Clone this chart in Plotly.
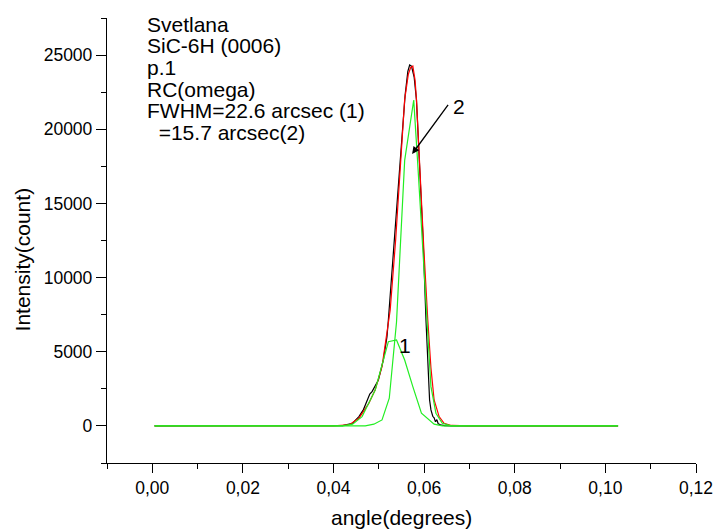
import plotly.graph_objects as go

# ---------------- data ----------------
# measured rocking curve, sample 1 (black)
black_x = [0.0005, 0.0400, 0.0420, 0.0442, 0.0456, 0.0466, 0.0474, 0.0480, 0.0485, 0.0499,
           0.0510, 0.0518, 0.0521, 0.0530, 0.0540, 0.0550, 0.0558, 0.0564, 0.0568, 0.0572,
           0.0578, 0.0583, 0.0590, 0.0598, 0.0604, 0.0608, 0.0612, 0.0615, 0.0619, 0.0622,
           0.0625, 0.0628, 0.0631, 0.0636, 0.0645, 0.0660, 0.1028]
black_y = [0, 0, 20, 180, 627, 1100, 1750, 2150, 2310, 3100,
           4450, 6020, 7140, 10800, 14800, 18900, 22300, 23900, 24330, 24250,
           23500, 22000, 17300, 12300, 7140, 4200, 1750, 1080, 650, 540,
           280, 420, 150, 80, 20, 0, 0]

# fit of curve 1 (red)
red_x = [0.0005, 0.0400, 0.0434, 0.0456, 0.0478, 0.0492, 0.0507, 0.0518, 0.0525, 0.0537,
         0.0550, 0.0557, 0.0565, 0.0570, 0.0575, 0.0580, 0.0583, 0.0590, 0.0599, 0.0608,
         0.0615, 0.0622, 0.0633, 0.0644, 0.0660, 0.0700, 0.1028]
red_y = [0, 0, 67, 520, 1530, 2430, 4000, 6250, 7800, 12500,
         18500, 22000, 23700, 24150, 24260, 23300, 22000, 17300, 12100, 7140,
         3900, 1750, 630, 180, 30, 0, 0]

# small green peak (labelled 1)
small_x = [0.0005, 0.0420, 0.0442, 0.0463, 0.0492, 0.0521, 0.0539, 0.0557, 0.0575, 0.0594,
           0.0622, 0.0640, 0.1028]
small_y = [0, 0, 115, 627, 2426, 5680, 5795, 4447, 2648, 856,
           115, 0, 0]

# narrow green curve (labelled 2)
narrow_x = [0.0005, 0.0470, 0.0489, 0.0507, 0.0523, 0.0539, 0.0557, 0.0577, 0.0586, 0.0606,
            0.0615, 0.0626, 0.0640, 0.0660, 0.1028]
narrow_y = [0, 0, 115, 404, 1866, 7000, 17900, 21970, 17600, 7365,
            2648, 856, 180, 0, 0]

info_lines = ["Svetlana", "SiC-6H (0006)", "p.1", "RC(omega)",
              "FWHM=22.6 arcsec (1)", "  =15.7 arcsec(2)"]

x_title = "angle(degrees)"
y_title = "Intensity(count)"

# ---------------- figure ----------------
FONT = "Liberation Sans, Arial, sans-serif"
W, H = 725, 529
L, R, T, B = 107, 19, 18, 66
XR = [-0.01, 0.12]
YR = [-2500, 27500]

def px_to_y(py):
    return YR[1] - (py - T) / (H - T - B) * (YR[1] - YR[0])

def px_to_x(px):
    return XR[0] + (px - L) / (W - L - R) * (XR[1] - XR[0])

fig = go.Figure()
line_w = 1.2
fig.add_trace(go.Scatter(x=black_x, y=black_y, mode="lines",
                         line=dict(color="black", width=line_w), showlegend=False))
fig.add_trace(go.Scatter(x=red_x, y=red_y, mode="lines",
                         line=dict(color="#ff0000", width=line_w), showlegend=False))
fig.add_trace(go.Scatter(x=small_x, y=small_y, mode="lines",
                         line=dict(color="#22ee22", width=line_w), showlegend=False))
fig.add_trace(go.Scatter(x=narrow_x, y=narrow_y, mode="lines",
                         line=dict(color="#22ee22", width=line_w), showlegend=False))

annotations = []
# text block
for i, t in enumerate(info_lines):
    cy = 24 + i * 21.67
    stripped = t.lstrip(" ")
    lead = "&nbsp;" * (len(t) - len(stripped))
    annotations.append(dict(x=px_to_x(146), y=px_to_y(cy), xref="x", yref="y",
                            text=lead + stripped,
                            showarrow=False, xanchor="left", yanchor="middle",
                            font=dict(family=FONT, size=21, color="black")))
# arrow for curve 2
annotations.append(dict(x=px_to_x(417.3), y=px_to_y(154), ax=px_to_x(455), ay=px_to_y(103.3),
                        xref="x", yref="y", axref="x", ayref="y", text="",
                        showarrow=True, arrowhead=2, arrowsize=1.1, arrowwidth=1.3,
                        arrowcolor="black"))
annotations.append(dict(x=px_to_x(465), y=px_to_y(106), xref="x", yref="y", text="2",
                        showarrow=False, xanchor="center", yanchor="middle",
                        font=dict(family=FONT, size=21, color="black")))
annotations.append(dict(x=px_to_x(410), y=px_to_y(345), xref="x", yref="y", text="1",
                        showarrow=False, xanchor="center", yanchor="middle",
                        font=dict(family=FONT, size=21, color="black")))
# axis titles
annotations.append(dict(x=(21 - L) / (W - L - R), y=(H - B - 259) / (H - T - B),
                        xref="paper", yref="paper", text=y_title, textangle=-90,
                        showarrow=False, xanchor="center", yanchor="middle",
                        font=dict(family=FONT, size=21, color="black")))
annotations.append(dict(x=(406 - L) / (W - L - R), y=-(517 - (H - B)) / (H - T - B),
                        xref="paper", yref="paper", text=x_title,
                        showarrow=False, xanchor="center", yanchor="middle",
                        font=dict(family=FONT, size=21, color="black")))

fig.update_layout(
    width=W, height=H,
    margin=dict(l=L, r=R, t=T, b=B, pad=0),
    paper_bgcolor="white", plot_bgcolor="white",
    separators=", ",
    font=dict(family=FONT, size=17.5, color="black"),
    annotations=annotations,
    showlegend=False,
)
fig.update_xaxes(range=XR, showgrid=False, zeroline=False, showline=True,
                 linecolor="black", linewidth=1.3, ticks="outside", ticklen=9,
                 tickwidth=1.3, tickcolor="black", tick0=0, dtick=0.02,
                 tickformat=".2f", ticklabelstandoff=0,
                 minor=dict(ticks="outside", ticklen=5, tickwidth=1.3,
                            tickcolor="black", dtick=0.01, tick0=0.01),
                 tickfont=dict(family=FONT, size=17.5, color="black"))
fig.update_yaxes(range=YR, showgrid=False, zeroline=False, showline=True,
                 linecolor="black", linewidth=1.3, ticks="outside", ticklen=10,
                 tickwidth=1.3, tickcolor="black", tick0=0, dtick=5000,
                 tickformat="d", ticklabelstandoff=0,
                 minor=dict(ticks="outside", ticklen=5, tickwidth=1.3,
                            tickcolor="black", dtick=2500, tick0=2500),
                 tickfont=dict(family=FONT, size=17.5, color="black"))

fig.write_html("out.html",
               config={"displayModeBar": False},
               post_script="document.body.style.margin='0';document.body.style.overflow='hidden';")
